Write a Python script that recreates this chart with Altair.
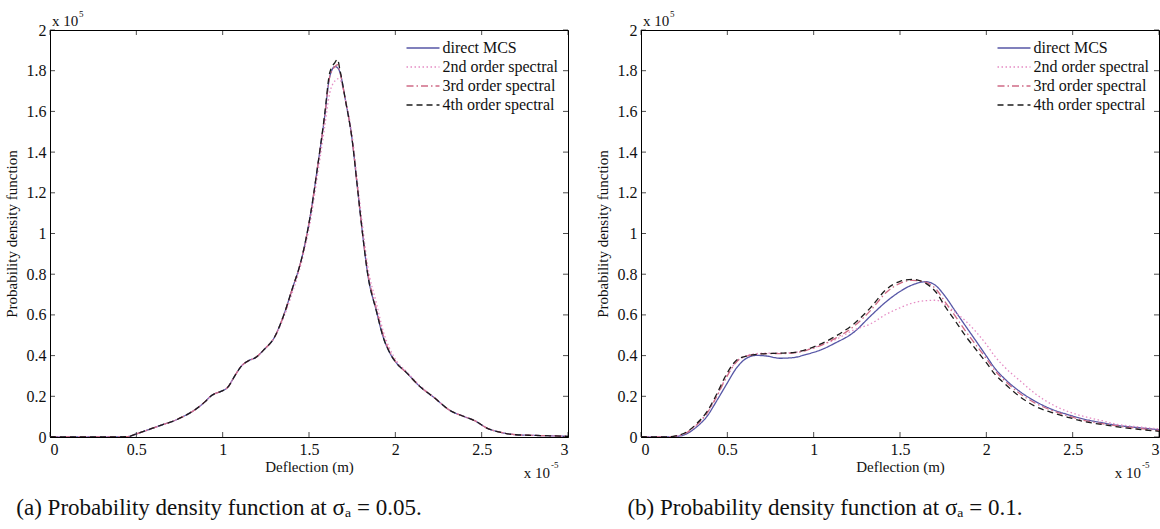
import altair as alt
import pandas as pd

SERIES = ["direct MCS", "2nd order spectral", "3rd order spectral", "4th order spectral"]
COLORS = ["#5656a6", "#e58cc4", "#cf6b86", "#1c1c1c"]
DASHES = [[1, 0], [1.5, 2.5], [7, 3, 1.5, 3], [6, 4]]

XTICKS = [0, 0.5, 1, 1.5, 2, 2.5, 3]
YTICKS = [0, 0.2, 0.4, 0.6, 0.8, 1, 1.2, 1.4, 1.6, 1.8, 2]

# Panel (a): sigma_a = 0.05  (x in 1e-5 m, y in 1e5)
X_A = [0, 0.3, 0.45, 0.5, 0.55, 0.6, 0.65, 0.71, 0.77, 0.84, 0.9, 0.93, 0.96, 0.99, 1.03,
       1.07, 1.11, 1.15, 1.19, 1.24, 1.3, 1.35, 1.4, 1.46, 1.51, 1.55, 1.59, 1.62, 1.65,
       1.665, 1.68, 1.71, 1.75, 1.78, 1.81, 1.84, 1.89, 1.93, 1.97, 2.01, 2.06, 2.14, 2.23,
       2.31, 2.4, 2.46, 2.53, 2.61, 2.7, 2.8, 2.9, 3.0]
MCS_A = [0, 0, 0.002, 0.015, 0.03, 0.045, 0.06, 0.077, 0.10, 0.134, 0.175, 0.20, 0.215,
         0.224, 0.245, 0.30, 0.35, 0.375, 0.39, 0.43, 0.49, 0.59, 0.72, 0.886, 1.10, 1.33,
         1.57, 1.77, 1.82, 1.815, 1.79, 1.66, 1.46, 1.23, 1.00, 0.80, 0.62, 0.49, 0.41, 0.36,
         0.32, 0.25, 0.19, 0.134, 0.10, 0.08, 0.044, 0.023, 0.011, 0.008, 0.006, 0.003]
S2_A = [0, 0, 0.002, 0.015, 0.03, 0.045, 0.06, 0.077, 0.10, 0.134, 0.175, 0.20, 0.215,
        0.224, 0.245, 0.30, 0.35, 0.375, 0.39, 0.43, 0.49, 0.58, 0.70, 0.87, 1.07, 1.29,
        1.52, 1.69, 1.75, 1.76, 1.755, 1.66, 1.48, 1.26, 1.04, 0.84, 0.66, 0.52, 0.43, 0.37,
        0.325, 0.255, 0.19, 0.134, 0.10, 0.08, 0.044, 0.023, 0.011, 0.008, 0.006, 0.003]
S3_A = [0, 0, 0.002, 0.015, 0.03, 0.045, 0.06, 0.077, 0.10, 0.134, 0.175, 0.20, 0.215,
        0.224, 0.245, 0.30, 0.35, 0.375, 0.39, 0.43, 0.49, 0.59, 0.72, 0.886, 1.10, 1.33,
        1.57, 1.77, 1.82, 1.83, 1.79, 1.66, 1.46, 1.23, 1.00, 0.81, 0.63, 0.50, 0.415, 0.36,
        0.32, 0.25, 0.19, 0.134, 0.10, 0.08, 0.044, 0.023, 0.011, 0.008, 0.006, 0.003]
S4_A = [0, 0, 0.002, 0.015, 0.03, 0.045, 0.06, 0.077, 0.10, 0.134, 0.175, 0.20, 0.215,
        0.224, 0.245, 0.30, 0.35, 0.375, 0.39, 0.43, 0.49, 0.59, 0.72, 0.886, 1.10, 1.33,
        1.58, 1.79, 1.84, 1.855, 1.80, 1.66, 1.46, 1.23, 1.00, 0.80, 0.62, 0.49, 0.41, 0.36,
        0.32, 0.25, 0.19, 0.134, 0.10, 0.08, 0.044, 0.023, 0.011, 0.008, 0.006, 0.003]

# Panel (b): sigma_a = 0.1
X_B = [0, 0.15, 0.2, 0.265, 0.323, 0.381, 0.438, 0.496, 0.554, 0.611, 0.669, 0.727, 0.804,
       0.881, 0.958, 1.035, 1.13, 1.23, 1.33, 1.42, 1.5, 1.57, 1.65, 1.71, 1.76, 1.82, 1.88,
       1.94, 2.0, 2.05, 2.11, 2.19, 2.28, 2.38, 2.48, 2.57, 2.67, 2.76, 2.88, 3.0]
MCS_B = [0, 0, 0.002, 0.016, 0.05, 0.10, 0.177, 0.26, 0.34, 0.387, 0.401, 0.398, 0.387,
         0.39, 0.406, 0.426, 0.464, 0.513, 0.595, 0.665, 0.715, 0.747, 0.763, 0.742, 0.693,
         0.619, 0.545, 0.472, 0.398, 0.337, 0.283, 0.226, 0.177, 0.136, 0.108, 0.087, 0.070,
         0.057, 0.046, 0.036]
S2_B = [0, 0, 0.004, 0.022, 0.062, 0.118, 0.20, 0.30, 0.372, 0.40, 0.41, 0.412, 0.412,
        0.415, 0.428, 0.45, 0.48, 0.525, 0.556, 0.603, 0.635, 0.658, 0.67, 0.672, 0.652,
        0.613, 0.57, 0.517, 0.455, 0.396, 0.34, 0.28, 0.215, 0.16, 0.123, 0.10, 0.08, 0.062,
        0.05, 0.04]
S3_B = [0, 0, 0.004, 0.022, 0.06, 0.115, 0.198, 0.295, 0.37, 0.397, 0.406, 0.41, 0.41,
        0.413, 0.426, 0.448, 0.487, 0.542, 0.622, 0.71, 0.755, 0.77, 0.76, 0.725, 0.665,
        0.594, 0.52, 0.452, 0.385, 0.326, 0.274, 0.216, 0.168, 0.13, 0.102, 0.081, 0.066,
        0.054, 0.042, 0.032]
S4_B = [0, 0, 0.005, 0.025, 0.066, 0.123, 0.21, 0.31, 0.378, 0.398, 0.406, 0.41, 0.412,
        0.415, 0.43, 0.455, 0.497, 0.554, 0.636, 0.725, 0.765, 0.775, 0.755, 0.71, 0.643,
        0.57, 0.496, 0.43, 0.365, 0.308, 0.259, 0.201, 0.152, 0.12, 0.095, 0.075, 0.062,
        0.05, 0.038, 0.028]

CAPTION_A = "(a) Probability density function at σₐ = 0.05."
CAPTION_B = "(b) Probability density function at σₐ = 0.1."
MANTISSA = "x 10"
EXP_Y = "5"
EXP_X = "-5"

FONT = "Liberation Serif"
W, H = 518, 407


def panel(xs, series_values, caption, cap_dx):
    rows = []
    for name, vals in zip(SERIES, series_values):
        for xv, yv in zip(xs, vals):
            rows.append({"x": xv, "y": yv, "series": name})
    df = pd.DataFrame(rows)

    xscale = alt.Scale(domain=[0, 3], nice=False, zero=False)
    yscale = alt.Scale(domain=[0, 2], nice=False, zero=False)
    xaxis = alt.Axis(values=XTICKS, format="~g", title="Deflection (m)",
                     ticks=False, titlePadding=2)
    yaxis = alt.Axis(values=YTICKS, format="~g", title="Probability density function",
                     ticks=False, titlePadding=7)
    leg = alt.Legend(title=None, orient="none", legendX=364, legendY=9,
                     symbolType="M-2,0L2,0", symbolSize=272, symbolStrokeWidth=1.3,
                     labelFont=FONT, labelFontSize=16, labelColor="#111",
                     rowPadding=2, labelOffset=10.5)

    lines = alt.Chart(df).mark_line(strokeWidth=1.3, clip=True, interpolate="monotone").encode(
        x=alt.X("x:Q", scale=xscale, axis=xaxis),
        y=alt.Y("y:Q", scale=yscale, axis=yaxis),
        color=alt.Color("series:N", scale=alt.Scale(domain=SERIES, range=COLORS),
                        legend=leg),
        strokeDash=alt.StrokeDash("series:N", scale=alt.Scale(domain=SERIES, range=DASHES),
                                  legend=leg),
    )

    xt = pd.DataFrame({"x": XTICKS})
    yt = pd.DataFrame({"y": YTICKS})
    tk = dict(size=5, thickness=1, color="black")
    bottom = alt.Chart(xt).mark_tick(orient="vertical", yOffset=-2.5, **tk).encode(
        x=alt.X("x:Q", scale=xscale, axis=xaxis), y=alt.datum(0, scale=yscale, axis=yaxis))
    top = alt.Chart(xt).mark_tick(orient="vertical", yOffset=2.5, **tk).encode(
        x=alt.X("x:Q", scale=xscale, axis=xaxis), y=alt.datum(2, scale=yscale, axis=yaxis))
    left = alt.Chart(yt).mark_tick(orient="horizontal", xOffset=2.5, **tk).encode(
        y=alt.Y("y:Q", scale=yscale, axis=yaxis), x=alt.datum(0, scale=xscale, axis=xaxis))
    right = alt.Chart(yt).mark_tick(orient="horizontal", xOffset=-2.5, **tk).encode(
        y=alt.Y("y:Q", scale=yscale, axis=yaxis), x=alt.datum(3, scale=xscale, axis=xaxis))

    def label(text, at_x, at_y, size, align, dx, dy):
        return alt.Chart(pd.DataFrame({"a": [0]})).mark_text(
            text=text, font=FONT, fontSize=size, align=align, baseline="alphabetic",
            dx=dx, dy=dy, color="#111"
        ).encode(x=alt.datum(at_x, scale=xscale, axis=xaxis),
                 y=alt.datum(at_y, scale=yscale, axis=yaxis))

    ylab = label(MANTISSA, 0, 2, 15, "left", 2, -4)
    ylab_e = label(EXP_Y, 0, 2, 9, "left", 29, -13)
    xlab = label(MANTISSA, 3, 0, 15, "right", -18, 41)
    xlab_e = label(EXP_X, 3, 0, 9, "left", -17, 31)

    return alt.layer(lines, bottom, top, left, right, ylab, ylab_e, xlab, xlab_e).properties(
        width=W, height=H,
        title=alt.TitleParams(caption, orient="bottom", anchor="middle", frame="group",
                              font=FONT, fontSize=23, fontWeight="normal", color="#111",
                              dx=cap_dx, offset=16),
    )


pa = panel(X_A, [MCS_A, S2_A, S3_A, S4_A], CAPTION_A, -90)
pb = panel(X_B, [MCS_B, S2_B, S3_B, S4_B], CAPTION_B, -75)

chart = alt.hconcat(pa, pb, spacing=25).resolve_scale(
    color="independent", strokeDash="independent"
).resolve_legend(
    color="independent", strokeDash="independent"
).properties(
    padding={"left": 3, "top": 9, "right": 0, "bottom": 0},
    background="white",
).configure_view(
    stroke="black", strokeWidth=1
).configure_axis(
    labelFont=FONT, labelFontSize=16, labelColor="#111",
    titleFont=FONT, titleFontSize=15, titleFontWeight="normal", titleColor="#111",
    domainColor="black", domainWidth=1, grid=False, labelPadding=4,
)

chart.save("out.html", embed_options={"renderer": "svg", "actions": False})
